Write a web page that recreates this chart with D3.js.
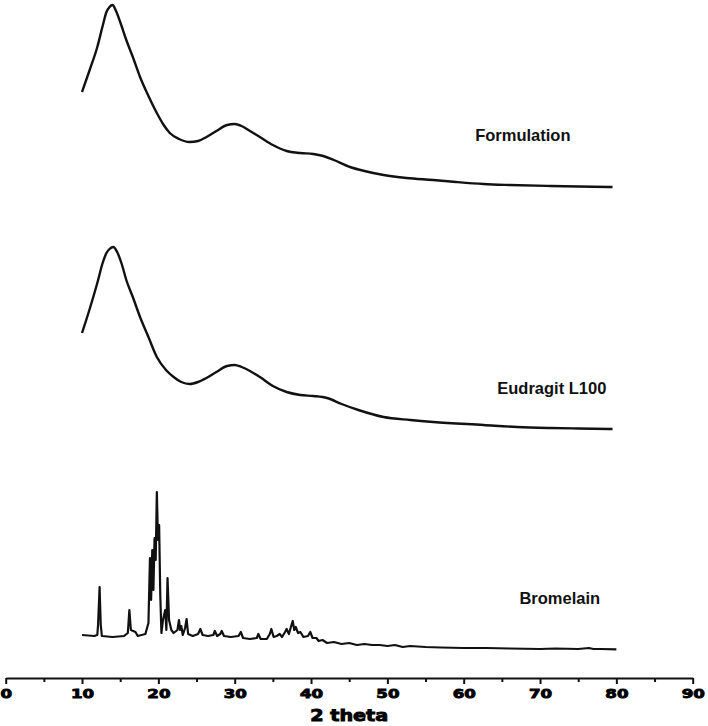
<!DOCTYPE html>
<html>
<head>
<meta charset="utf-8">
<script src="https://cdn.jsdelivr.net/npm/d3@7"></script>
<style>
  html, body { margin: 0; padding: 0; background: #fff; }
  svg { display: block; }
</style>
</head>
<body>
<div id="chart"></div>
<script>
// ---- data (2θ in degrees, intensity in arbitrary stacked units) ----
const formulationTheta = [10.0,11.0,12.0,12.7,13.2,13.6,14.0,14.4,15.0,15.8,16.7,17.6,18.7,19.8,20.7,21.5,22.7,24.1,25.2,26.3,27.6,29.0,30.0,30.9,32.0,33.3,35.0,36.8,38.6,40.3,41.6,43.0,45.1,47.0,49.5,52.5,56.0,59.0,62.6,66.0,71.4,75.0,79.5];
const formulationIntensity = [586,608,631,652,666,671,673,668,656,638,620,601,582,565,553,545,539,536,537,541,547,553,554,552,547,541,533,527,525,524,522,518,511,507,503,500,498,496,494,493,492,491.5,491];

const eudragitTheta = [10.0,11.0,12.0,12.7,13.2,13.6,14.1,14.6,15.2,15.8,16.7,17.6,18.7,19.8,21.0,22.0,23.0,24.1,25.2,26.3,27.6,29.0,30.0,30.9,32.0,33.3,35.0,36.8,38.6,40.3,42.1,44.0,46.2,49.5,53.0,56.0,62.6,67.0,71.4,75.0,79.5];
const eudragitIntensity = [345,369,395,415,425,429,431,426,414,398,380,361,341,321,308,301,296,294,296,300,306,312,313,311,307,301,292,286,283,282,280,274,268,261,258,256,253,251,250,249.5,249];

const bromelainTheta = [10.0,11.6,12.0,12.1,12.3,12.45,12.6,14.0,15.5,16.0,16.2,16.4,16.7,17.0,17.3,18.3,18.7,18.9,19.05,19.2,19.35,19.5,19.65,19.8,19.95,20.1,20.25,20.4,20.6,20.9,21.05,21.2,21.4,21.7,22.0,22.5,22.7,22.85,23.0,23.2,23.5,23.7,23.9,24.5,25.2,25.5,25.8,26.5,27.2,27.4,27.7,28.1,28.3,28.6,29.5,30.5,30.8,31.1,32.0,32.9,33.1,33.4,34.2,34.6,34.8,35.1,35.5,35.9,36.2,36.6,36.8,37.1,37.4,37.6,37.8,38.0,38.3,38.6,39.0,39.6,39.9,40.2,40.7,41.0,41.5,42.1,43,44,45,46,47,48,49,50,51,52,53,55,57,60,63,66,70,72,75,76.4,77,78,80];
const bromelainIntensity = [43,42,43,53,91,53,42,41,42,45,68,48,47,46,42,44,55,120,78,128,88,140,118,186,138,153,83,45,58,68,48,100,58,48,45,48,58,48,52,43,50,59,44,42,44,49,43,42,43,47,42,44,47,42,41,42,46,40,39,40,44,39,39,44,49,41,42,44,41,46,49,44,52,57,48,51,45,46,41,42,46,40,40,37,38,35,36,34,35,33,34,33,33,32,33,31,32,31,30.5,30,30,29.5,29,29.5,29,30,29,29,28.7];

const series = [
  { name: "Formulation",   theta: formulationTheta, intensity: formulationIntensity, labelTheta: 61.5, labelIntensity: 537, curve: "smooth" },
  { name: "Eudragit L100", theta: eudragitTheta,    intensity: eudragitIntensity,    labelTheta: 64.4, labelIntensity: 284, curve: "smooth" },
  { name: "Bromelain",     theta: bromelainTheta,   intensity: bromelainIntensity,   labelTheta: 67.3, labelIntensity: 74,  curve: "linear" }
];

const xTicks = [0,10,20,30,40,50,60,70,80,90];
const xMinorTicks = [5,15,25,35,45,55,65,75,85];
const xLabel = "2 theta";

// ---- layout ----
const W = 708, H = 726;
const axisY = 678;

const svg = d3.select("#chart").append("svg")
  .attr("width", W).attr("height", H);

const x = d3.scaleLinear().domain([0, 90]).range([5.7, 692.7]);
const y = d3.scaleLinear().domain([0, 678]).range([678, 0]);

// curves
series.forEach(s => {
  const pts = s.theta.map((t, i) => [t, s.intensity[i]]);
  const line = d3.line()
    .x(d => x(d[0])).y(d => y(d[1]))
    .curve(s.curve === "smooth" ? d3.curveMonotoneX : d3.curveLinear);
  svg.append("path")
    .datum(pts)
    .attr("d", line)
    .attr("fill", "none")
    .attr("stroke", "#111")
    .attr("stroke-width", s.curve === "smooth" ? 2.4 : 2.2)
    .attr("stroke-linejoin", "round");

  svg.append("text")
    .attr("x", x(s.labelTheta))
    .attr("y", y(s.labelIntensity))
    .attr("font-family", "'Liberation Sans', Arial, sans-serif")
    .attr("font-weight", "bold")
    .attr("font-size", 16.5)
    .attr("fill", "#111")
    .text(s.name);
});

// minor ticks
const minorAxis = d3.axisBottom(x).tickValues(xMinorTicks).tickSize(4).tickFormat("");
const gMinor = svg.append("g").attr("transform", `translate(0,${axisY})`).call(minorAxis);
gMinor.select(".domain").remove();
gMinor.selectAll("line").attr("stroke", "#111").attr("stroke-width", 2);

// major axis
const xAxis = d3.axisBottom(x).tickValues(xTicks).tickSize(6).tickSizeOuter(0).tickFormat(d3.format("d"));
const gx = svg.append("g").attr("transform", `translate(0,${axisY})`).call(xAxis);
gx.select(".domain").attr("stroke", "#111").attr("stroke-width", 2);
gx.selectAll(".tick line").attr("stroke", "#111").attr("stroke-width", 2);
gx.selectAll(".tick text")
  .attr("y", 20.5).attr("dy", null)
  .attr("transform", "scale(1.28,1)")
  .attr("font-family", "'DejaVu Sans', sans-serif")
  .attr("font-weight", "bold")
  .attr("font-size", 13)
  .attr("fill", "#000")
  .attr("stroke", "#000")
  .attr("stroke-width", 0.9);

svg.append("text")
  .attr("transform", `translate(${x(45)},721) scale(1.2,1)`)
  .attr("text-anchor", "middle")
  .attr("font-family", "'DejaVu Sans', sans-serif")
  .attr("font-weight", "bold")
  .attr("font-size", 16)
  .attr("fill", "#000")
  .attr("stroke", "#000")
  .attr("stroke-width", 0.9)
  .text(xLabel);
</script>
</body>
</html>
